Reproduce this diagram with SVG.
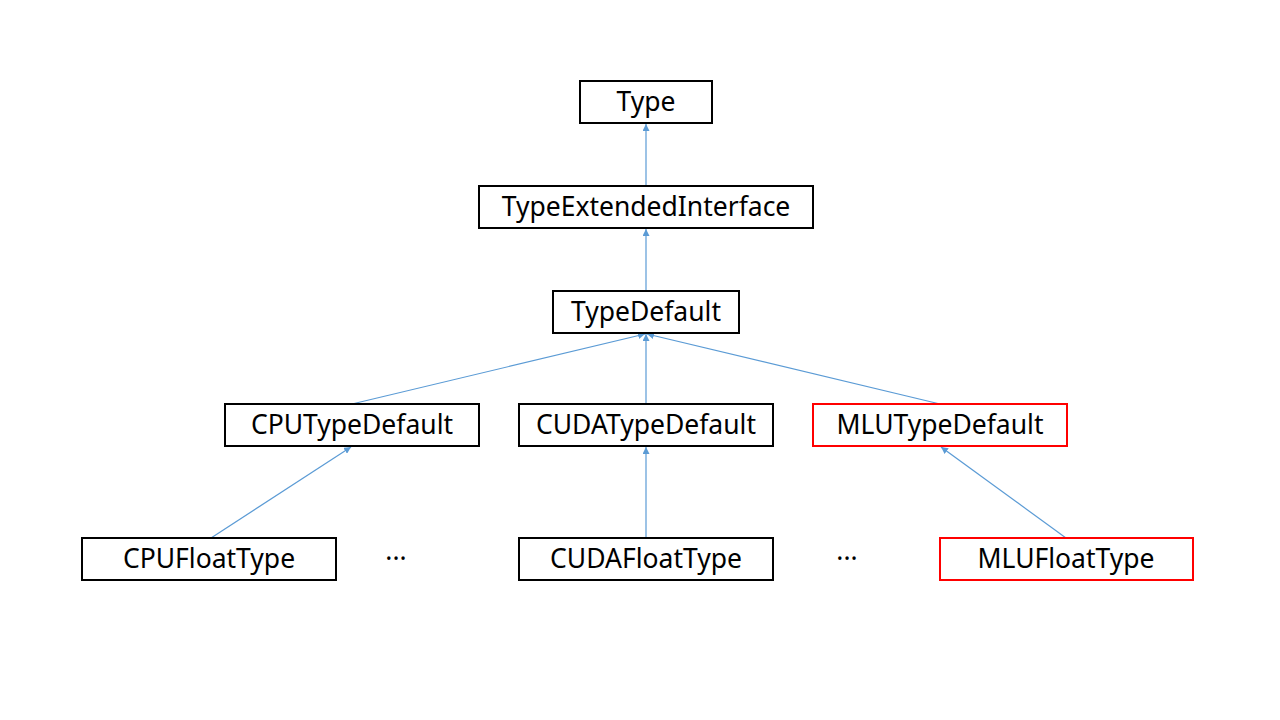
<svg xmlns="http://www.w3.org/2000/svg" width="1280" height="720" viewBox="0 0 1280 720">
<style>
.box{fill:#fff;stroke:#000;stroke-width:2}
.red{fill:#fff;stroke:#ff0000;stroke-width:2}
.lbl{font-family:"Noto Sans","Liberation Sans",sans-serif;font-size:26.5px;fill:#000;text-anchor:middle;dominant-baseline:central}
.edge{stroke:#5B9BD5;stroke-width:1.2;fill:none;marker-end:url(#arr)}
</style>
<defs>
<marker id="arr" viewBox="0 0 10 10" refX="10" refY="5" markerWidth="7" markerHeight="7" markerUnits="userSpaceOnUse" orient="auto">
<path d="M0,0 L10,5 L0,10 z" fill="#5B9BD5"/>
</marker>
</defs>
<rect width="1280" height="720" fill="#fff"/>
<g id="connectors">
<line class="edge" x1="646" y1="186" x2="646" y2="124"/>
<line class="edge" x1="646" y1="291" x2="646" y2="229"/>
<line class="edge" x1="352" y1="404" x2="645" y2="334"/>
<line class="edge" x1="646" y1="404" x2="646" y2="334"/>
<line class="edge" x1="940" y1="404" x2="647" y2="334"/>
<line class="edge" x1="211" y1="538" x2="351" y2="447"/>
<line class="edge" x1="646" y1="538" x2="646" y2="447"/>
<line class="edge" x1="1066" y1="538" x2="941" y2="447"/>
</g>
<g id="n-type"><rect class="box" x="580" y="81" width="132" height="42"/><text class="lbl" x="646" y="101">Type</text></g>
<g id="n-tei"><rect class="box" x="479" y="186" width="334" height="42"/><text class="lbl" x="646" y="206">TypeExtendedInterface</text></g>
<g id="n-td"><rect class="box" x="553" y="291" width="186" height="42"/><text class="lbl" x="646" y="311">TypeDefault</text></g>
<g id="n-cputd"><rect class="box" x="225" y="404" width="254" height="42"/><text class="lbl" x="352" y="424">CPUTypeDefault</text></g>
<g id="n-cudatd"><rect class="box" x="519" y="404" width="254" height="42"/><text class="lbl" x="646" y="424">CUDATypeDefault</text></g>
<g id="n-mlutd"><rect class="red" x="813" y="404" width="254" height="42"/><text class="lbl" x="940" y="424">MLUTypeDefault</text></g>
<g id="n-cpuft"><rect class="box" x="82" y="538" width="254" height="42"/><text class="lbl" x="209" y="558">CPUFloatType</text></g>
<g id="n-cudaft"><rect class="box" x="519" y="538" width="254" height="42"/><text class="lbl" x="646" y="558">CUDAFloatType</text></g>
<g id="n-mluft"><rect class="red" x="940" y="538" width="253" height="42"/><text class="lbl" x="1066" y="558">MLUFloatType</text></g>
<g id="dots1"><text class="lbl" x="396" y="550">...</text></g>
<g id="dots2"><text class="lbl" x="847" y="550">...</text></g>
</svg>
